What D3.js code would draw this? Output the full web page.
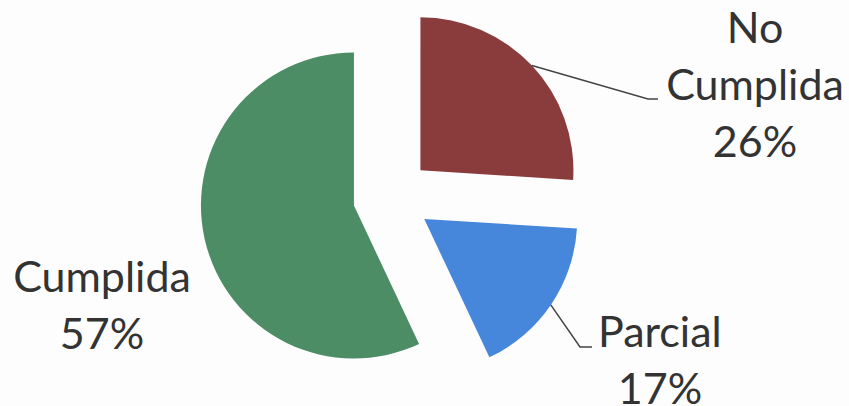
<!DOCTYPE html>
<html>
<head>
<meta charset="utf-8">
<script src="https://cdn.jsdelivr.net/npm/d3@7"></script>
<style>
  body { margin: 0; background: #fdfdfd; }
  svg { display: block; }
  .label { font-family: Lato, "Open Sans", sans-serif; fill: #333; }
  .leader { fill: none; stroke: #444; stroke-width: 1.5; }
</style>
</head>
<body>
<svg id="chart" width="849" height="406"></svg>
<script>
// slices, clockwise from 12 o'clock
var categories = ["No Cumplida", "Parcial", "Cumplida"];
var values = [26, 17, 57];
var colors = ["#8a3b3b", "#4687dc", "#4c8d66"];
var labelLines = [["No", "Cumplida", "26%"], ["Parcial", "17%"], ["Cumplida", "57%"]];

var width = 849, height = 406;
var center = { x: 392, y: 197 };
var radius = 153;
var explode = 39;
var fontSize = 43;
var lineHeight = 57;

// label layout: text anchor (centre x, first baseline), leader elbow
var labelLayout = [
    { x: 755, y: 43, leader: true, elbowX: 648, elbowY: 99, endX: 658 },
    { x: 660, y: 347, leader: true, elbowX: 580, elbowY: 347, endX: 592, textX: 598, anchor: "start" },
    { x: 102, y: 292, leader: false }
];

var svg = d3.select("#chart");

var pie = d3.pie().sort(null).value(d => d);
var arcs = pie(values);

var arc = d3.arc().innerRadius(0).outerRadius(radius);

function polar(angle, r) {
    return [Math.sin(angle) * r, -Math.cos(angle) * r];
}

var g = svg.append("g")
    .attr("transform", "translate(" + center.x + "," + center.y + ")");

var slice = g.selectAll(".slice")
    .data(arcs)
  .enter().append("g")
    .attr("class", "slice")
    .attr("transform", d => {
        var off = polar((d.startAngle + d.endAngle) / 2, explode);
        return "translate(" + off[0] + "," + off[1] + ")";
    });

slice.append("path")
    .attr("d", arc)
    .attr("fill", (d, i) => colors[i]);

// leader lines
arcs.forEach((d, i) => {
    var lay = labelLayout[i];
    if (!lay.leader) return;
    var mid = (d.startAngle + d.endAngle) / 2;
    var p = polar(mid, radius + explode);
    var start = [center.x + p[0], center.y + p[1]];
    svg.append("path")
        .attr("class", "leader")
        .attr("d", d3.line()([start, [lay.elbowX, lay.elbowY], [lay.endX, lay.elbowY]]));
});

// labels
arcs.forEach((d, i) => {
    var lay = labelLayout[i];
    var lines = labelLines[i];
    lines.forEach((t, j) => {
        var first = (j === 0 && lay.anchor === "start");
        svg.append("text")
            .attr("class", "label")
            .attr("x", first ? lay.textX : lay.x)
            .attr("y", lay.y + j * lineHeight)
            .attr("text-anchor", first ? "start" : "middle")
            .style("font-size", fontSize + "px")
            .text(t);
    });
});
</script>
</body>
</html>
